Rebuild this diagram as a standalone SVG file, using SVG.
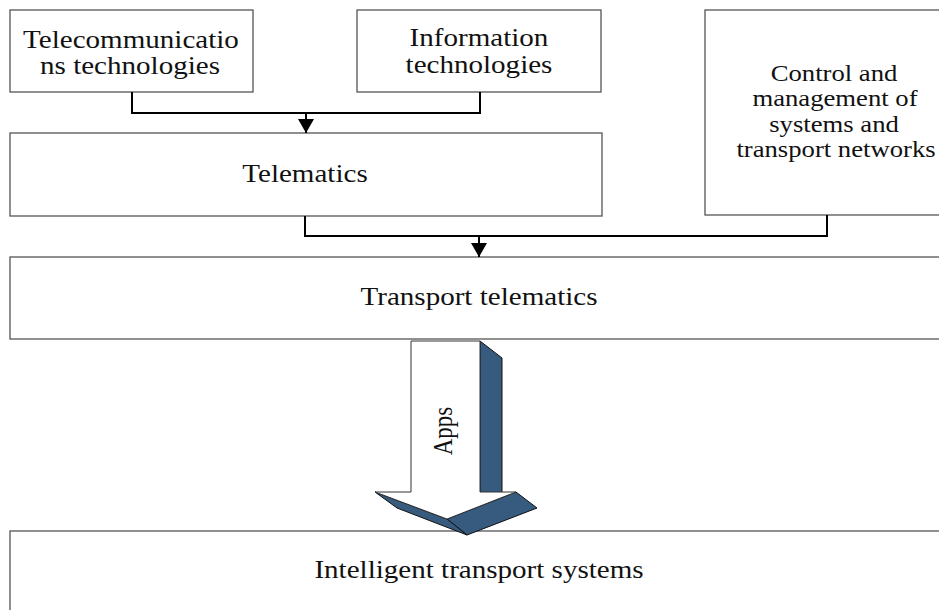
<svg xmlns="http://www.w3.org/2000/svg" width="939" height="610" viewBox="0 0 939 610">
<style>
.box{fill:#ffffff;stroke:#555555;stroke-width:1.3}
.lbl{font-family:"Liberation Serif","Times New Roman",serif;font-size:25.5px;fill:#111111;text-anchor:middle}
.lbl2{font-family:"Liberation Serif","Times New Roman",serif;font-size:23.4px;fill:#111111;text-anchor:middle}
.conn{fill:none;stroke:#000000;stroke-width:2}
.dark{fill:#375a7f;stroke:#111111;stroke-width:1;stroke-linejoin:round}
.front{fill:#ffffff;stroke:#333333;stroke-width:1;stroke-linejoin:miter}
</style>
<defs>
<marker id="ah" markerUnits="userSpaceOnUse" markerWidth="18" markerHeight="16" refX="14" refY="8" orient="auto">
<path d="M0,0 L14,8 L0,16 Z" fill="#000000"/>
</marker>
</defs>
<rect width="939" height="610" fill="#ffffff"/>

<g id="node-telecom">
<rect class="box" x="10" y="10" width="243" height="82"/>
<text class="lbl" transform="translate(131,48) scale(1.14,1)">Telecommunicatio</text>
<text class="lbl" transform="translate(130,74) scale(1.14,1)">ns technologies</text>
</g>

<g id="node-info">
<rect class="box" x="357" y="10" width="244" height="82"/>
<text class="lbl" transform="translate(479,46) scale(1.14,1)">Information</text>
<text class="lbl" transform="translate(479,73) scale(1.14,1)">technologies</text>
</g>

<g id="node-control">
<rect class="box" x="705" y="10" width="270" height="205"/>
<text class="lbl2" transform="translate(834,81) scale(1.14,1)">Control and</text>
<text class="lbl2" transform="translate(835,106) scale(1.14,1)">management of</text>
<text class="lbl2" transform="translate(834,132) scale(1.14,1)">systems and</text>
<text class="lbl2" transform="translate(836,157) scale(1.14,1)">transport networks</text>
</g>

<g id="node-telematics">
<rect class="box" x="10" y="133" width="592" height="83"/>
<text class="lbl" transform="translate(305,182) scale(1.14,1)">Telematics</text>
</g>

<g id="node-transport-telematics">
<rect class="box" x="10" y="257" width="960" height="82"/>
<text class="lbl" transform="translate(479,305) scale(1.14,1)">Transport telematics</text>
</g>

<g id="node-its">
<rect class="box" x="10" y="531" width="960" height="100"/>
<text class="lbl" transform="translate(479,578) scale(1.14,1)">Intelligent transport systems</text>
</g>

<g id="connectors">
<path class="conn" d="M132,92 V113 H480 V92"/>
<path class="conn" d="M306,113 V133" marker-end="url(#ah)"/>
<path class="conn" d="M305,216 V236 H827 V215"/>
<path class="conn" d="M479,236 V257" marker-end="url(#ah)"/>
</g>

<g id="apps-arrow">
<polygon class="dark" points="480,341 502,358 502,508 480,492"/>
<polygon class="dark" points="516,492 537,508 467,535 447,519"/>
<polygon class="dark" points="375,492 397,508 467,535 447,519"/>
<polygon class="front" points="411,341 480,341 480,492 516,492 447,519 375,492 411,492"/>
<text class="lbl" style="font-size:23px" transform="translate(452,431) scale(1.21,1) rotate(-90)">Apps</text>
</g>
</svg>
